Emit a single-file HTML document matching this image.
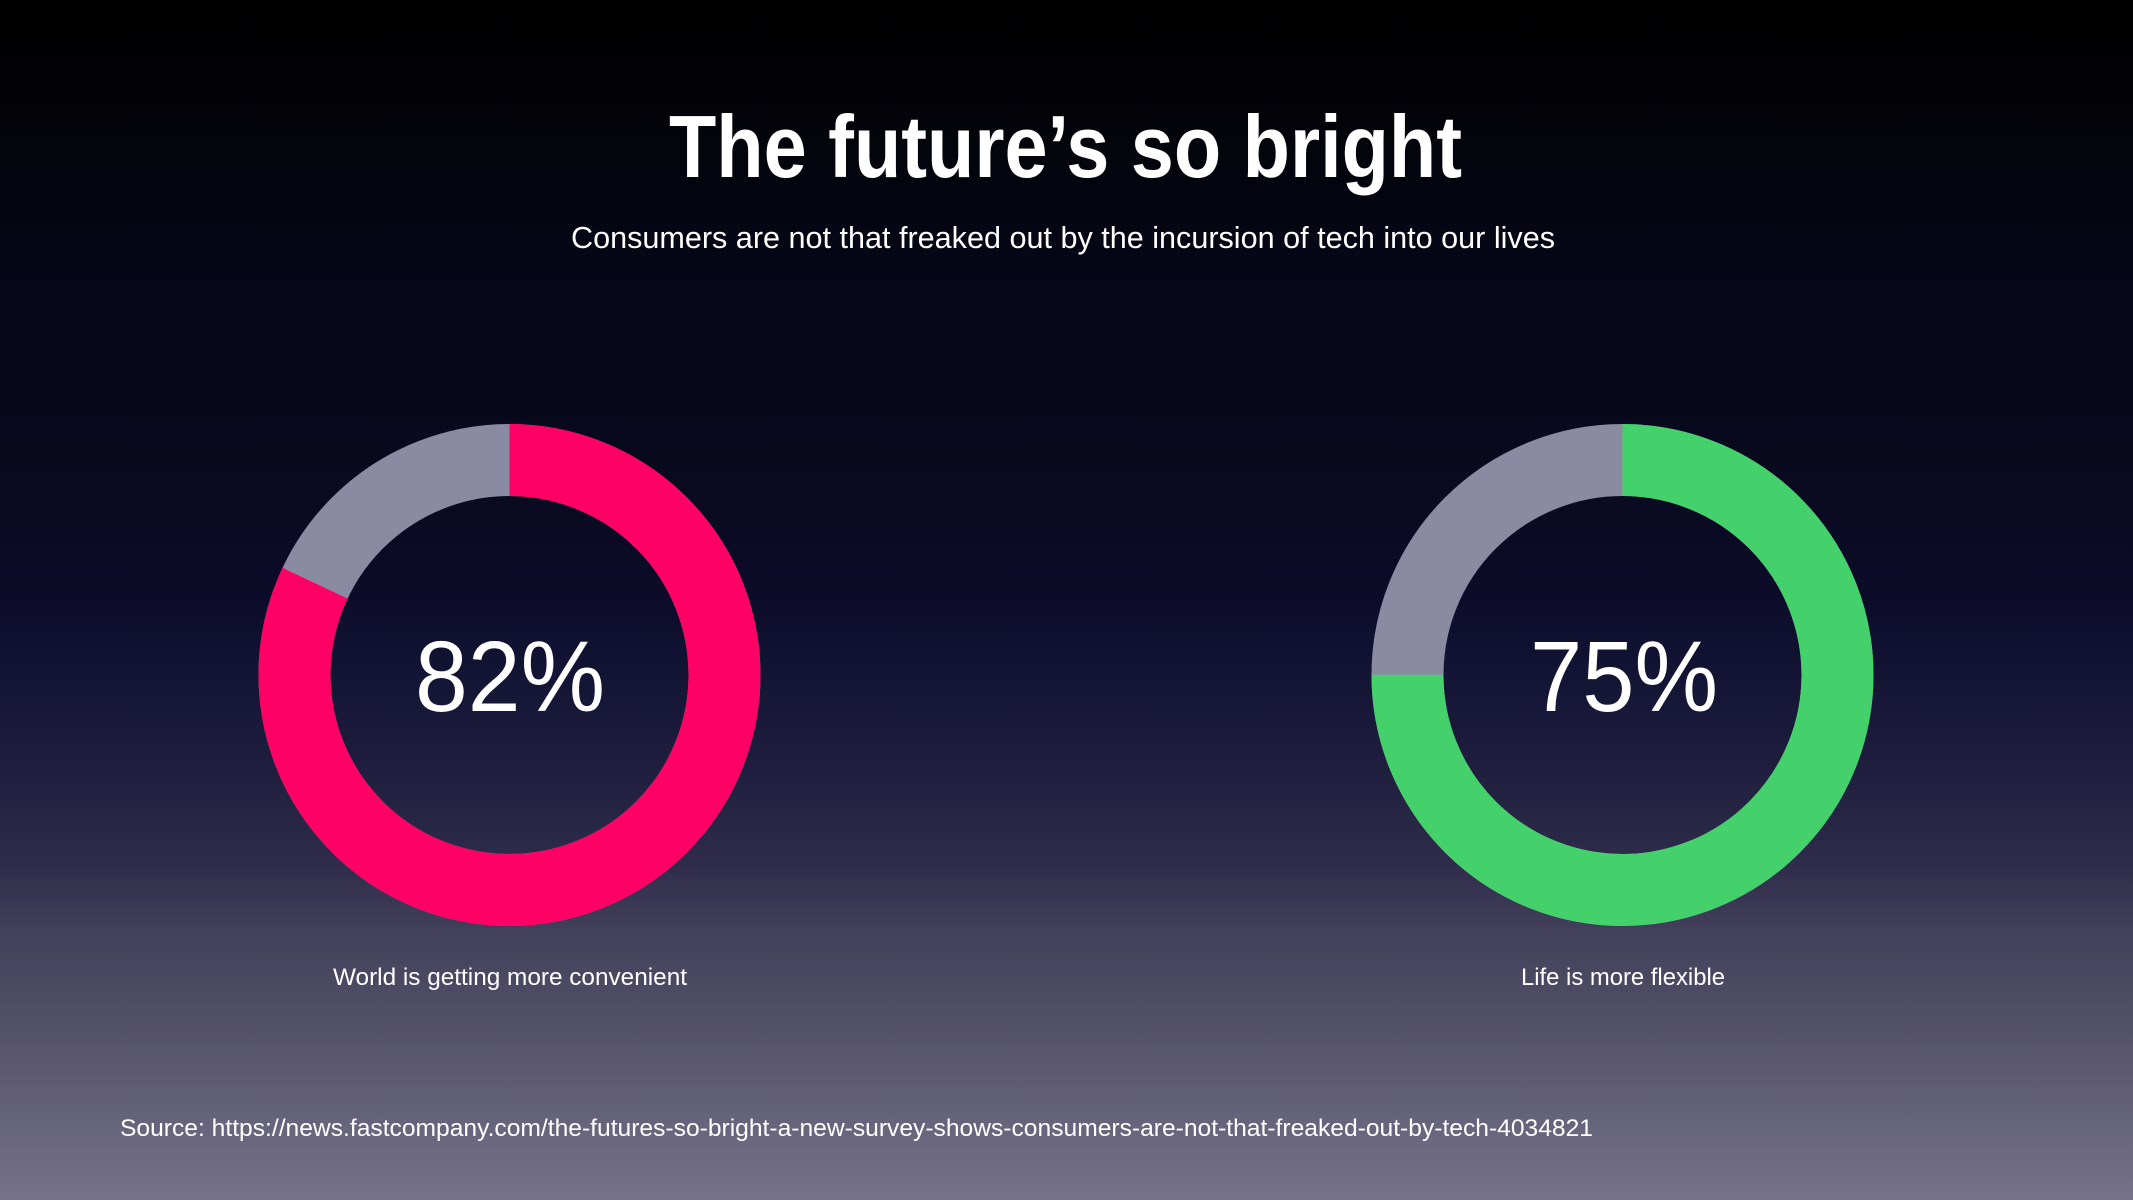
<!DOCTYPE html>
<html>
<head>
<meta charset="utf-8">
<style>
  html, body { margin:0; padding:0; }
  body { width:2133px; height:1200px; overflow:hidden;
    background: linear-gradient(to bottom,
      #000000 0%, #030309 10%, #07071a 25%, #09091f 40%, #0c0c2a 50%,
      #131334 56%, #1f1e3e 64%, #2e2c4a 72%, #43415b 78%, #524f68 85%,
      #65637a 93%, #75728a 100%);
  }
  svg { display:block; }
  text { font-family: "Liberation Sans", "DejaVu Sans", sans-serif; fill:#ffffff; }
</style>
</head>
<body>
<svg width="2133" height="1200" viewBox="0 0 2133 1200" xmlns="http://www.w3.org/2000/svg">
  <text x="669" y="177" font-size="88" font-weight="bold" textLength="793" lengthAdjust="spacingAndGlyphs">The future’s so bright</text>
  <text x="571" y="248" font-size="31" textLength="984" lengthAdjust="spacingAndGlyphs">Consumers are not that freaked out by the incursion of tech into our lives</text>

  <!-- Left donut -->
  <circle cx="509.5" cy="675" r="215" fill="none" stroke="#8a8aa3" stroke-width="72"/>
  <circle cx="509.5" cy="675" r="215" fill="none" stroke="#ff0064" stroke-width="72"
    stroke-dasharray="1107.72 2000" transform="rotate(-90 509.5 675)"/>
  <text x="415" y="711" font-size="100" textLength="190" lengthAdjust="spacingAndGlyphs">82%</text>
  <text x="333" y="985" font-size="24" textLength="354" lengthAdjust="spacingAndGlyphs">World is getting more convenient</text>

  <!-- Right donut -->
  <circle cx="1622.5" cy="675" r="215" fill="none" stroke="#8a8aa3" stroke-width="72"/>
  <circle cx="1622.5" cy="675" r="215" fill="none" stroke="#44d16c" stroke-width="72"
    stroke-dasharray="1013.16 2000" transform="rotate(-90 1622.5 675)"/>
  <text x="1530" y="711" font-size="100" textLength="188" lengthAdjust="spacingAndGlyphs">75%</text>
  <text x="1521" y="985" font-size="24" textLength="204" lengthAdjust="spacingAndGlyphs">Life is more flexible</text>

  <text x="120" y="1136" font-size="24" textLength="1473" lengthAdjust="spacingAndGlyphs">Source: https://news.fastcompany.com/the-futures-so-bright-a-new-survey-shows-consumers-are-not-that-freaked-out-by-tech-4034821</text>
</svg>
</body>
</html>
